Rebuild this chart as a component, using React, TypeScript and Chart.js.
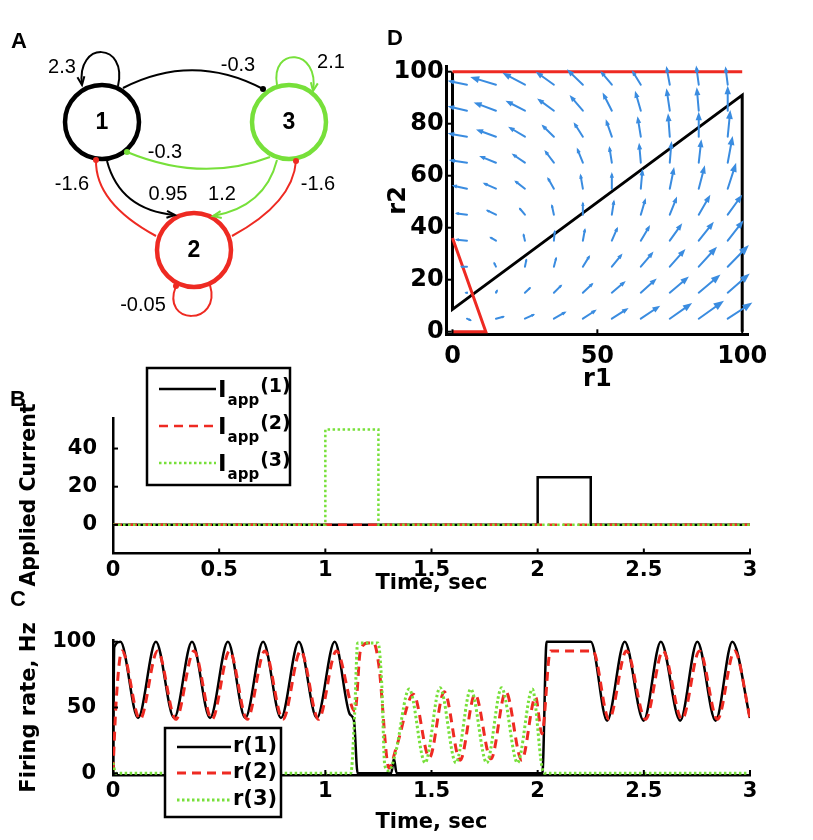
import React, { useEffect, useRef } from 'react';
import { Chart, registerables } from 'chart.js';
Chart.register(...registerables);

const AX_FONT = '"DejaVu Sans", sans-serif';
const LBL_FONT = '"Liberation Sans", Arial, sans-serif';
const BLACK = '#000000';
const RED = '#ee2a22';
const GREEN = '#77e03a';
const BLUE = '#3a8ce0';

// ---------- Panel A: network weights ----------
const nodeNames = ['1', '2', '3'];
const edgeFrom = [1, 1, 3, 3, 1, 3, 2, 2, 2];
const edgeTo = [1, 3, 3, 1, 2, 2, 1, 3, 2];
const edgeWeight = [2.3, -0.3, 2.1, -0.3, 0.95, 1.2, -1.6, -1.6, -0.05];

// ---------- Panel B: applied current ----------
const timeTicks = [0, 0.5, 1, 1.5, 2, 2.5, 3];
const currentTicks = [0, 20, 40];
const iapp1T = [0, 2, 2, 2.25, 2.25, 3];
const iapp1V = [0, 0, 25, 25, 0, 0];
const iapp2T = [0, 3];
const iapp2V = [0, 0];
const iapp3T = [0, 1, 1, 1.25, 1.25, 3];
const iapp3V = [0, 0, 50, 50, 0, 0];

// ---------- Panel C: firing rates ----------
const rateTicks = [0, 50, 100];
const r1T = [0, 0.006, 0.035, 0.118, 0.202, 0.288, 0.372, 0.457, 0.541, 0.623, 0.707, 0.791, 0.875, 0.96, 1.044, 1.115, 1.135, 1.152, 1.31, 1.323, 1.336, 2.022, 2.042, 2.25, 2.327, 2.41, 2.499, 2.58, 2.671, 2.752, 2.838, 2.917, 3.0];
const r1V = [0, 96, 100, 42, 100, 42, 100, 42, 100, 42, 100, 42, 100, 42, 100, 45, 40, 0, 0, 11, 0, 0, 100, 100, 40, 100, 40, 100, 40, 100, 40, 100, 42];
const r2T = [0, 0.015, 0.042, 0.127, 0.21, 0.296, 0.381, 0.466, 0.549, 0.632, 0.715, 0.8, 0.884, 0.968, 1.052, 1.14, 1.165, 1.2, 1.228, 1.252, 1.3, 1.335, 1.415, 1.49, 1.56, 1.635, 1.705, 1.78, 1.85, 1.925, 1.99, 2.02, 2.06, 2.26, 2.336, 2.418, 2.508, 2.59, 2.68, 2.762, 2.847, 2.927, 3.0];
const r2V = [2, 55, 93, 41, 93, 41, 93, 41, 93, 41, 93, 41, 93, 41, 93, 47, 93, 99, 99, 82, 4, 20, 60, 12, 62, 10, 60, 11, 62, 10, 58, 30, 93, 93, 41, 93, 41, 93, 41, 93, 41, 93, 42];
const r3T = [0, 0.012, 1.12, 1.138, 1.152, 1.248, 1.265, 1.28, 1.3, 1.33, 1.395, 1.47, 1.54, 1.615, 1.685, 1.76, 1.83, 1.905, 1.975, 2.02, 2.035, 3.0];
const r3V = [8, 0, 0, 45, 99, 99, 70, 6, 2, 15, 64, 8, 65, 8, 64, 8, 65, 8, 64, 5, 0, 0];

// ---------- Panel D: phase plane ----------
const r1Ticks = [0, 50, 100];
const r2Ticks = [0, 20, 40, 60, 80, 100];
const nullR1X = [0, 0, 100, 100];
const nullR1Y = [100, 8.6, 91, 0];
const nullR2TopX = [0, 100];
const nullR2TopY = [100, 100];
const nullR2LowX = [0, 11.5, 0];
const nullR2LowY = [36, 0, 0];
const quiverR1 = [5, 15, 25, 35, 45, 55, 65, 75, 85, 95];
const quiverR2 = [5, 15, 25, 35, 45, 55, 65, 75, 85, 95];
// arrow components (dr1, dr2) for each row r2 (bottom to top), columns r1 (left to right)
const quiverU = [
  [1.7, 3.1, 3.5, 4.4, 4.8, 5.8, 6.7, 7.7, 8.7, 8.5],
  [-0.9, 0.6, 2.1, 2.9, 3.7, 4.8, 5.5, 6.6, 7.5, 7.6],
  [-2.4, -0.8, 0.6, 0.9, 2.5, 3.7, 4.4, 5.4, 6.3, 7.3],
  [-4.2, -2.3, -0.6, 0.35, 0.8, 2.1, 3.2, 4.3, 5.2, 5.5],
  [-4.2, -3.5, -2.1, -0.8, 0, 0.8, 1.7, 2.5, 4.0, 5.0],
  [-5.3, -4.6, -3.7, -2.3, -0.9, 0, 0.6, 1.5, 2.1, 2.9],
  [-6.3, -5.8, -4.6, -3.3, -2.1, -0.9, -0.6, 0.6, 0.9, 1.7],
  [-6.7, -6.9, -5.8, -4.3, -3.2, -2.1, -1.15, -0.6, 0, 0.9],
  [-6.7, -7.7, -6.7, -5.8, -4.6, -3.2, -2.0, -1.15, -0.7, 0],
  [-6.7, -8.9, -7.8, -6.3, -5.5, -4.0, -3.1, -1.2, -0.9, -0.8],
];
const quiverV = [
  [-0.8, 0.9, 1.8, 2.8, 3.5, 4.1, 5.0, 6.0, 6.9, 6.2],
  [0, 1.3, 2.2, 3.2, 3.85, 4.5, 5.5, 6.2, 7.0, 7.4],
  [0, 1.9, 3.2, 3.85, 4.5, 5.1, 5.8, 6.8, 7.7, 8.3],
  [0.5, 1.5, 2.9, 4.2, 4.9, 5.4, 6.0, 6.7, 7.3, 7.9],
  [0.6, 1.9, 2.8, 4.1, 5.1, 5.8, 6.4, 7.0, 7.7, 7.7],
  [1.3, 2.3, 3.2, 4.5, 5.8, 6.4, 7.7, 8.3, 9.0, 10],
  [1.0, 2.6, 3.5, 4.9, 5.8, 6.4, 7.7, 8.3, 9.0, 10.3],
  [1.3, 2.8, 3.85, 4.7, 5.6, 6.7, 7.9, 9.0, 9.6, 10.3],
  [1.7, 3.2, 3.85, 4.7, 6.0, 7.0, 7.7, 8.6, 9.0, 9.6],
  [1.5, 2.95, 4.6, 5.0, 5.9, 5.3, 5.6, 7.2, 7.4, 7.1],
];

// ---------- layout (not data) ----------
const nodePos = [
  { x: 102, y: 122 },
  { x: 194, y: 250 },
  { x: 289, y: 122 },
];
const nodeColors = [BLACK, RED, GREEN];
// bezier control points per edge (canvas units of panel A)
const edgePaths: number[][][] = [
  [[118, 86], [128, 42], [76, 40], [82, 85]],
  [[123, 88], [193, 52], [263, 89]],
  [[277, 85], [270, 46], [320, 48], [313, 91]],
  [[270, 157], [202, 183], [127, 152]],
  [[107, 161], [120, 210], [175, 215]],
  [[277, 160], [265, 207], [213, 216]],
  [[156, 236], [95, 203], [96, 160]],
  [[232, 236], [293, 203], [296, 161]],
  [[210, 285], [222, 326], [160, 326], [176, 286]],
];
const edgeLabelPos = [
  [62, 67], [238, 65], [331, 62], [165, 152], [168, 194], [222, 194], [72, 184], [318, 184], [143, 305],
];

const xy = (t: number[], v: number[]) => t.map((x, i) => ({ x, y: v[i] }));

const tickFont = (size: number) => ({ family: AX_FONT, size, weight: 'bold' as const });

function panelLetter(text: string, x: number, y: number) {
  return {
    id: 'panelLetter' + text,
    afterDraw(chart: any) {
      const ctx = chart.ctx;
      ctx.save();
      ctx.font = `bold 22px ${LBL_FONT}`;
      ctx.fillStyle = BLACK;
      ctx.textBaseline = 'alphabetic';
      ctx.textAlign = 'left';
      ctx.fillText(text, x, y);
      ctx.restore();
    },
  };
}

function rotatedTitle(text: string, x: number, y: number, size: number) {
  return {
    id: 'rotatedTitle',
    afterDraw(chart: any) {
      const ctx = chart.ctx;
      ctx.save();
      ctx.translate(x, y);
      ctx.rotate(-Math.PI / 2);
      ctx.font = `bold ${size}px ${AX_FONT}`;
      ctx.fillStyle = BLACK;
      ctx.textAlign = 'center';
      ctx.textBaseline = 'middle';
      ctx.fillText(text, 0, 0);
      ctx.restore();
    },
  };
}

function inwardTicks(len: number, width: number) {
  return {
    id: 'inwardTicks',
    afterDatasetsDraw(chart: any) {
      const { ctx, chartArea, scales } = chart;
      ctx.save();
      ctx.strokeStyle = BLACK;
      ctx.lineWidth = width;
      scales.x.ticks.forEach((t: any) => {
        const px = scales.x.getPixelForValue(t.value);
        ctx.beginPath();
        ctx.moveTo(px, chartArea.bottom);
        ctx.lineTo(px, chartArea.bottom - len);
        ctx.stroke();
      });
      scales.y.ticks.forEach((t: any) => {
        const py = scales.y.getPixelForValue(t.value);
        ctx.beginPath();
        ctx.moveTo(chartArea.left, py);
        ctx.lineTo(chartArea.left + len, py);
        ctx.stroke();
      });
      ctx.restore();
    },
  };
}

type LegendEntry = { color: string; dash: number[]; width: number; main: string; sub?: string; tail?: string };

function boxLegend(box: { x: number; y: number; w: number; h: number }, rows: number[], lineX: [number, number], entries: LegendEntry[], fontSize: number) {
  return {
    id: 'boxLegend',
    afterDraw(chart: any) {
      const ctx = chart.ctx;
      ctx.save();
      ctx.fillStyle = '#ffffff';
      ctx.fillRect(box.x, box.y, box.w, box.h);
      ctx.strokeStyle = BLACK;
      ctx.lineWidth = 2.5;
      ctx.strokeRect(box.x, box.y, box.w, box.h);
      entries.forEach((e, i) => {
        const y = rows[i];
        ctx.beginPath();
        ctx.setLineDash(e.dash);
        ctx.strokeStyle = e.color;
        ctx.lineWidth = e.width;
        ctx.moveTo(lineX[0], y);
        ctx.lineTo(lineX[1], y);
        ctx.stroke();
        ctx.setLineDash([]);
        ctx.fillStyle = BLACK;
        ctx.textAlign = 'left';
        let x = lineX[1] + 2;
        if (e.sub) {
          ctx.textBaseline = 'alphabetic';
          ctx.font = `bold ${fontSize + 2}px ${AX_FONT}`;
          ctx.fillText(e.main, x, y + 8);
          x += ctx.measureText(e.main).width + 1;
          ctx.font = `bold ${fontSize - 6}px ${AX_FONT}`;
          ctx.fillText(e.sub, x, y + 16);
          x += ctx.measureText(e.sub).width + 1;
          ctx.font = `bold ${fontSize - 2}px ${AX_FONT}`;
          ctx.fillText(e.tail || '', x, y + 3);
        } else {
          ctx.textBaseline = 'middle';
          ctx.font = `bold ${fontSize}px ${AX_FONT}`;
          ctx.fillText(e.main, x, y);
        }
      });
      ctx.restore();
    },
  };
}

function axisX(ticks: number[], min: number, max: number, height: number, size: number, pad: number, title: string, titlePad: number, borderW: number) {
  return {
    type: 'linear' as const,
    min,
    max,
    afterBuildTicks: (s: any) => { s.ticks = ticks.map((v) => ({ value: v })); },
    afterFit: (s: any) => { s.height = height; },
    grid: { drawOnChartArea: false, drawTicks: false },
    border: { display: true, color: BLACK, width: borderW },
    ticks: { font: tickFont(size), color: BLACK, padding: pad, maxRotation: 0, autoSkip: false, callback: (v: any) => String(v) },
    title: { display: true, text: title, color: BLACK, font: tickFont(size), padding: { top: 0, bottom: titlePad } },
  };
}

function axisY(ticks: number[], min: number, max: number, width: number, size: number, pad: number, title: string, titlePad: number, borderW: number) {
  return {
    type: 'linear' as const,
    min,
    max,
    afterBuildTicks: (s: any) => { s.ticks = ticks.map((v) => ({ value: v })); },
    afterFit: (s: any) => { s.width = width; },
    grid: { drawOnChartArea: false, drawTicks: false },
    border: { display: true, color: BLACK, width: borderW },
    ticks: { font: tickFont(size), color: BLACK, padding: pad, autoSkip: false, callback: (v: any) => String(v) },
    title: { display: title !== '', text: title, color: BLACK, font: tickFont(size), padding: { top: titlePad, bottom: 0 } },
  };
}

const baseOpts = {
  responsive: false,
  maintainAspectRatio: false,
  animation: false as const,
  events: [] as any[],
  plugins: { legend: { display: false }, tooltip: { enabled: false } },
};

function configA() {
  const network = {
    id: 'network',
    afterDatasetsDraw(chart: any) {
      const { ctx, scales } = chart;
      const P = (p: number[]) => [scales.x.getPixelForValue(p[0]), scales.y.getPixelForValue(p[1])];
      edgePaths.forEach((path, i) => {
        const color = nodeColors[edgeFrom[i] - 1];
        const pts = path.map(P);
        ctx.save();
        ctx.strokeStyle = color;
        ctx.fillStyle = color;
        ctx.lineWidth = 2;
        ctx.beginPath();
        ctx.moveTo(pts[0][0], pts[0][1]);
        if (pts.length === 3) ctx.quadraticCurveTo(pts[1][0], pts[1][1], pts[2][0], pts[2][1]);
        else ctx.bezierCurveTo(pts[1][0], pts[1][1], pts[2][0], pts[2][1], pts[3][0], pts[3][1]);
        ctx.stroke();
        const end = pts[pts.length - 1];
        const prev = pts[pts.length - 2];
        if (edgeWeight[i] < 0) {
          ctx.beginPath();
          ctx.arc(end[0], end[1], 3, 0, Math.PI * 2);
          ctx.fill();
        } else {
          const a = Math.atan2(end[1] - prev[1], end[0] - prev[0]);
          const L = 9;
          ctx.beginPath();
          ctx.moveTo(end[0] - L * Math.cos(a - 0.4), end[1] - L * Math.sin(a - 0.4));
          ctx.lineTo(end[0], end[1]);
          ctx.lineTo(end[0] - L * Math.cos(a + 0.4), end[1] - L * Math.sin(a + 0.4));
          ctx.stroke();
        }
        ctx.restore();
        ctx.save();
        ctx.fillStyle = BLACK;
        ctx.font = `20px ${LBL_FONT}`;
        ctx.textAlign = 'center';
        ctx.textBaseline = 'middle';
        const lp = P(edgeLabelPos[i]);
        ctx.fillText(String(edgeWeight[i]), lp[0], lp[1]);
        ctx.restore();
      });
      ctx.save();
      ctx.fillStyle = BLACK;
      ctx.font = `bold 23px ${LBL_FONT}`;
      ctx.textAlign = 'center';
      ctx.textBaseline = 'middle';
      nodeNames.forEach((n, i) => {
        const p = P([nodePos[i].x, nodePos[i].y]);
        ctx.fillText(n, p[0], p[1] + 1);
      });
      ctx.restore();
    },
  };
  return {
    type: 'scatter' as const,
    data: {
      datasets: [
        {
          data: nodePos,
          pointRadius: 37,
          pointBorderWidth: 4.5,
          pointBorderColor: nodeColors,
          pointBackgroundColor: '#ffffff',
          clip: false as const,
        },
      ],
    },
    options: {
      ...baseOpts,
      layout: { padding: 0, autoPadding: false },
      scales: {
        x: { type: 'linear' as const, min: 0, max: 380, display: false },
        y: { type: 'linear' as const, min: 0, max: 340, reverse: true, display: false },
      },
    },
    plugins: [network, panelLetter('A', 11, 48)],
  };
}

function configB() {
  const top = 360;
  return {
    type: 'line' as const,
    data: {
      datasets: [
        { data: xy(iapp1T, iapp1V), borderColor: BLACK, borderWidth: 2.5, pointRadius: 0, tension: 0, order: 3 },
        { data: xy(iapp2T, iapp2V), borderColor: RED, borderWidth: 2.5, borderDash: [9, 6], pointRadius: 0, tension: 0, order: 2 },
        { data: xy(iapp3T, iapp3V), borderColor: GREEN, borderWidth: 2.5, borderDash: [2.5, 2.5], pointRadius: 0, tension: 0, order: 1 },
      ],
    },
    options: {
      ...baseOpts,
      layout: { padding: { top: 418 - top, right: 63, left: 0, bottom: 0 }, autoPadding: false },
      scales: {
        x: axisX(timeTicks, 0, 3, 600 - 553.5, 21, 4, 'Time, sec', 4, 2.5),
        y: axisY(currentTicks, -15, 56, 113, 21, 16, '', 0, 2.5),
      },
    },
    plugins: [
      inwardTicks(5, 2),
      boxLegend({ x: 147, y: 368 - top, w: 143, h: 117 }, [389 - top, 426 - top, 463 - top], [159, 216], [
        { color: BLACK, dash: [], width: 2.5, main: 'I', sub: 'app', tail: '(1)' },
        { color: RED, dash: [9, 6], width: 2.5, main: 'I', sub: 'app', tail: '(2)' },
        { color: GREEN, dash: [2.5, 2.5], width: 2.5, main: 'I', sub: 'app', tail: '(3)' },
      ], 21),
      rotatedTitle('Applied Current', 30, 495 - top, 20.5),
      panelLetter('B', 10, 406 - top),
    ],
  };
}

function configC() {
  const top = 585;
  return {
    type: 'line' as const,
    data: {
      datasets: [
        { data: xy(r1T, r1V), borderColor: BLACK, borderWidth: 2.5, pointRadius: 0, cubicInterpolationMode: 'monotone' as const, order: 3 },
        { data: xy(r2T, r2V), borderColor: RED, borderWidth: 3, borderDash: [9, 6], pointRadius: 0, cubicInterpolationMode: 'monotone' as const, order: 2 },
        { data: xy(r3T, r3V), borderColor: GREEN, borderWidth: 3, borderDash: [2.5, 2.5], pointRadius: 0, cubicInterpolationMode: 'monotone' as const, order: 1 },
      ],
    },
    options: {
      ...baseOpts,
      layout: { padding: { top: 640 - top, right: 63, left: 0, bottom: 0 }, autoPadding: false },
      scales: {
        x: axisX(timeTicks, 0, 3, 840 - 775, 21, 4, 'Time, sec', 5, 2.5),
        y: axisY(rateTicks, -1.3, 101.3, 113, 21, 17, 'Firing rate, Hz', 17, 2.5),
      },
    },
    plugins: [
      inwardTicks(5, 2),
      boxLegend({ x: 165, y: 728 - top, w: 116, h: 89 }, [747 - top, 773 - top, 800 - top], [177, 231], [
        { color: BLACK, dash: [], width: 2.5, main: 'r(1)' },
        { color: RED, dash: [9, 6], width: 3, main: 'r(2)' },
        { color: GREEN, dash: [2.5, 2.5], width: 3, main: 'r(3)' },
      ], 21),
      panelLetter('C', 10, 606 - top),
    ],
  };
}

function configD() {
  const left = 380;
  const quiver = {
    id: 'quiver',
    afterDatasetsDraw(chart: any) {
      const { ctx, scales } = chart;
      ctx.save();
      ctx.strokeStyle = BLUE;
      ctx.fillStyle = BLUE;
      ctx.lineWidth = 2;
      ctx.lineCap = 'round';
      ctx.lineJoin = 'round';
      quiverR2.forEach((r2, j) => {
        quiverR1.forEach((r1, i) => {
          const x0 = scales.x.getPixelForValue(r1);
          const y0 = scales.y.getPixelForValue(r2);
          const x1 = scales.x.getPixelForValue(r1 + quiverU[j][i]);
          const y1 = scales.y.getPixelForValue(r2 + quiverV[j][i]);
          const len = Math.hypot(x1 - x0, y1 - y0);
          if (len < 0.5) return;
          const a = Math.atan2(y1 - y0, x1 - x0);
          const h = Math.max(3.5, len * 0.36);
          ctx.beginPath();
          ctx.moveTo(x0, y0);
          ctx.lineTo(x1 - 0.5 * h * Math.cos(a), y1 - 0.5 * h * Math.sin(a));
          ctx.stroke();
          ctx.beginPath();
          ctx.moveTo(x1, y1);
          ctx.lineTo(x1 - h * Math.cos(a - 0.36), y1 - h * Math.sin(a - 0.36));
          ctx.lineTo(x1 - h * Math.cos(a + 0.36), y1 - h * Math.sin(a + 0.36));
          ctx.closePath();
          ctx.fill();
        });
      });
      ctx.restore();
    },
  };
  const lineDs = (x: number[], y: number[], color: string) => ({
    data: xy(x, y),
    borderColor: color,
    borderWidth: 3,
    pointRadius: 0,
    showLine: true,
    tension: 0,
    clip: false as const,
  });
  return {
    type: 'scatter' as const,
    data: {
      datasets: [
        lineDs(nullR2TopX, nullR2TopY, RED),
        lineDs(nullR2LowX, nullR2LowY, RED),
        lineDs(nullR1X, nullR1Y, BLACK),
      ],
    },
    options: {
      ...baseOpts,
      layout: { padding: { top: 66.5, right: 813 - 748, left: 0, bottom: 0 }, autoPadding: false },
      scales: {
        x: axisX(r1Ticks, -2, 102, 400 - 334.3, 24, 8, 'r1', 6, 3),
        y: axisY(r2Ticks, -1, 102, 446.7 - left, 24, 3, 'r2', 4, 3),
      },
    },
    plugins: [quiver, inwardTicks(5, 2), panelLetter('D', 7, 45)],
  };
}

function ChartBox({ x, y, w, h, make }: { x: number; y: number; w: number; h: number; make: () => any }) {
  const ref = useRef<HTMLCanvasElement | null>(null);
  useEffect(() => {
    const chart = new Chart(ref.current as HTMLCanvasElement, make());
    return () => chart.destroy();
  }, []);
  return (
    <div style={{ position: 'absolute', left: x, top: y, width: w, height: h }}>
      <canvas ref={ref} width={w} height={h} style={{ width: w, height: h, display: 'block' }} />
    </div>
  );
}

export default function App() {
  return (
    <div style={{ position: 'absolute', left: 0, top: 0, width: 813, height: 840, background: '#ffffff', overflow: 'hidden' }}>
      <ChartBox x={0} y={0} w={380} h={340} make={configA} />
      <ChartBox x={380} y={0} w={433} h={400} make={configD} />
      <ChartBox x={0} y={360} w={813} h={240} make={configB} />
      <ChartBox x={0} y={585} w={813} h={255} make={configC} />
    </div>
  );
}
